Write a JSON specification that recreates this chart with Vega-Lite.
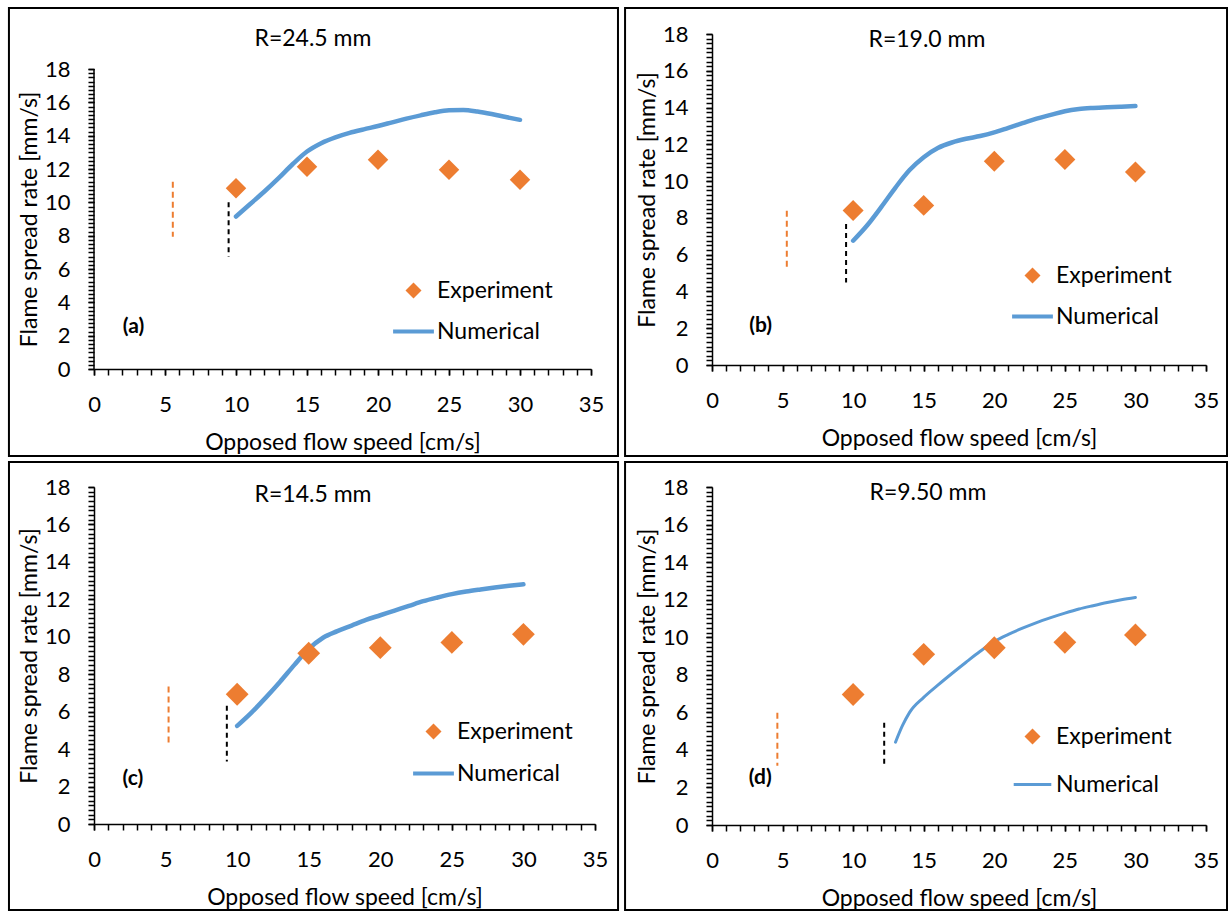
{
  "$schema": "https://vega.github.io/schema/vega-lite/v6.json",
  "background": "white",
  "padding": {"left": 7, "top": 7, "right": 0, "bottom": 0},
  "columns": 2,
  "spacing": {"row": 2, "column": 4},
  "resolve": {"scale": {"color": "independent", "shape": "independent"}},
  "datasets": {
    "measured": [
      {"panel": "a", "series": "Experiment", "speed": 10, "rate": 10.84},
      {"panel": "a", "series": "Experiment", "speed": 15, "rate": 12.14},
      {"panel": "a", "series": "Experiment", "speed": 20, "rate": 12.56},
      {"panel": "a", "series": "Experiment", "speed": 25, "rate": 11.96},
      {"panel": "a", "series": "Experiment", "speed": 30, "rate": 11.36},
      {"panel": "b", "series": "Experiment", "speed": 10, "rate": 8.4},
      {"panel": "b", "series": "Experiment", "speed": 15, "rate": 8.68},
      {"panel": "b", "series": "Experiment", "speed": 20, "rate": 11.08},
      {"panel": "b", "series": "Experiment", "speed": 25, "rate": 11.17},
      {"panel": "b", "series": "Experiment", "speed": 30, "rate": 10.5},
      {"panel": "c", "series": "Experiment", "speed": 10, "rate": 6.93},
      {"panel": "c", "series": "Experiment", "speed": 15, "rate": 9.12},
      {"panel": "c", "series": "Experiment", "speed": 20, "rate": 9.42},
      {"panel": "c", "series": "Experiment", "speed": 25, "rate": 9.7},
      {"panel": "c", "series": "Experiment", "speed": 30, "rate": 10.13},
      {"panel": "d", "series": "Experiment", "speed": 10, "rate": 6.95},
      {"panel": "d", "series": "Experiment", "speed": 15, "rate": 9.09},
      {"panel": "d", "series": "Experiment", "speed": 20, "rate": 9.44},
      {"panel": "d", "series": "Experiment", "speed": 25, "rate": 9.73},
      {"panel": "d", "series": "Experiment", "speed": 30, "rate": 10.12}
    ],
    "simulated": [
      {"panel": "a", "speed": 10, "rate": 9.15},
      {"panel": "a", "speed": 11, "rate": 9.9},
      {"panel": "a", "speed": 12, "rate": 10.65},
      {"panel": "a", "speed": 13, "rate": 11.45},
      {"panel": "a", "speed": 14, "rate": 12.3},
      {"panel": "a", "speed": 15, "rate": 13.05},
      {"panel": "a", "speed": 16, "rate": 13.55},
      {"panel": "a", "speed": 17, "rate": 13.9},
      {"panel": "a", "speed": 18, "rate": 14.17},
      {"panel": "a", "speed": 19, "rate": 14.38},
      {"panel": "a", "speed": 20, "rate": 14.58},
      {"panel": "a", "speed": 21, "rate": 14.8},
      {"panel": "a", "speed": 22, "rate": 15.02},
      {"panel": "a", "speed": 23, "rate": 15.22},
      {"panel": "a", "speed": 24, "rate": 15.4},
      {"panel": "a", "speed": 25, "rate": 15.52},
      {"panel": "a", "speed": 26, "rate": 15.54},
      {"panel": "a", "speed": 27, "rate": 15.45},
      {"panel": "a", "speed": 28, "rate": 15.3},
      {"panel": "a", "speed": 29, "rate": 15.12},
      {"panel": "a", "speed": 30, "rate": 14.95},
      {"panel": "b", "speed": 10, "rate": 6.76},
      {"panel": "b", "speed": 11, "rate": 7.6},
      {"panel": "b", "speed": 12, "rate": 8.6},
      {"panel": "b", "speed": 13, "rate": 9.65},
      {"panel": "b", "speed": 14, "rate": 10.6},
      {"panel": "b", "speed": 15, "rate": 11.3},
      {"panel": "b", "speed": 16, "rate": 11.8},
      {"panel": "b", "speed": 17, "rate": 12.1},
      {"panel": "b", "speed": 18, "rate": 12.3},
      {"panel": "b", "speed": 19, "rate": 12.45},
      {"panel": "b", "speed": 20, "rate": 12.65},
      {"panel": "b", "speed": 21, "rate": 12.9},
      {"panel": "b", "speed": 22, "rate": 13.15},
      {"panel": "b", "speed": 23, "rate": 13.4},
      {"panel": "b", "speed": 24, "rate": 13.6},
      {"panel": "b", "speed": 25, "rate": 13.8},
      {"panel": "b", "speed": 26, "rate": 13.92},
      {"panel": "b", "speed": 27, "rate": 13.98},
      {"panel": "b", "speed": 28, "rate": 14.02},
      {"panel": "b", "speed": 29, "rate": 14.05},
      {"panel": "b", "speed": 30, "rate": 14.08},
      {"panel": "c", "speed": 10, "rate": 5.24},
      {"panel": "c", "speed": 11, "rate": 5.95},
      {"panel": "c", "speed": 12, "rate": 6.75},
      {"panel": "c", "speed": 13, "rate": 7.6},
      {"panel": "c", "speed": 14, "rate": 8.5},
      {"panel": "c", "speed": 15, "rate": 9.35},
      {"panel": "c", "speed": 16, "rate": 9.95},
      {"panel": "c", "speed": 17, "rate": 10.3},
      {"panel": "c", "speed": 18, "rate": 10.6},
      {"panel": "c", "speed": 19, "rate": 10.9},
      {"panel": "c", "speed": 20, "rate": 11.15},
      {"panel": "c", "speed": 21, "rate": 11.4},
      {"panel": "c", "speed": 22, "rate": 11.65},
      {"panel": "c", "speed": 23, "rate": 11.9},
      {"panel": "c", "speed": 24, "rate": 12.1},
      {"panel": "c", "speed": 25, "rate": 12.28},
      {"panel": "c", "speed": 26, "rate": 12.42},
      {"panel": "c", "speed": 27, "rate": 12.53},
      {"panel": "c", "speed": 28, "rate": 12.63},
      {"panel": "c", "speed": 29, "rate": 12.72},
      {"panel": "c", "speed": 30, "rate": 12.8},
      {"panel": "d", "speed": 13, "rate": 4.41},
      {"panel": "d", "speed": 13.5, "rate": 5.3},
      {"panel": "d", "speed": 14, "rate": 6.0},
      {"panel": "d", "speed": 15, "rate": 6.8},
      {"panel": "d", "speed": 16, "rate": 7.45},
      {"panel": "d", "speed": 17, "rate": 8.07},
      {"panel": "d", "speed": 18, "rate": 8.67},
      {"panel": "d", "speed": 19, "rate": 9.25},
      {"panel": "d", "speed": 20, "rate": 9.77},
      {"panel": "d", "speed": 21, "rate": 10.15},
      {"panel": "d", "speed": 22, "rate": 10.48},
      {"panel": "d", "speed": 23, "rate": 10.78},
      {"panel": "d", "speed": 24, "rate": 11.04},
      {"panel": "d", "speed": 25, "rate": 11.28},
      {"panel": "d", "speed": 26, "rate": 11.5},
      {"panel": "d", "speed": 27, "rate": 11.68},
      {"panel": "d", "speed": 28, "rate": 11.85},
      {"panel": "d", "speed": 29, "rate": 12.0},
      {"panel": "d", "speed": 30, "rate": 12.12}
    ],
    "limits": [
      {"panel": "a", "kind": "exp", "speed": 5.55, "lo": 7.94, "hi": 11.24},
      {"panel": "a", "kind": "num", "speed": 9.48, "lo": 6.74, "hi": 10.0},
      {"panel": "b", "kind": "exp", "speed": 5.3, "lo": 5.26, "hi": 8.39},
      {"panel": "b", "kind": "num", "speed": 9.5, "lo": 4.48, "hi": 7.67},
      {"panel": "c", "kind": "exp", "speed": 5.21, "lo": 4.32, "hi": 7.34},
      {"panel": "c", "kind": "num", "speed": 9.28, "lo": 3.34, "hi": 6.31},
      {"panel": "d", "kind": "exp", "speed": 4.63, "lo": 3.16, "hi": 5.98},
      {"panel": "d", "kind": "num", "speed": 12.2, "lo": 3.07, "hi": 5.45}
    ]
  },
  "concat": [
    {
      "width": 497,
      "height": 335,
      "resolve": {"axis": {"x": "independent", "y": "independent"}},
      "layer": [
        {
          "data": {"values": [{}]},
          "mark": {"type": "rect", "filled": false, "stroke": "#000", "strokeWidth": 2},
          "encoding": {
            "x": {"datum": -5.99, "type": "quantitative",
              "axis": {"orient": "bottom", "title": null, "labels": false, "values": [0,1,2,3,4,5,6,7,8,9,10,11,12,13,14,15,16,17,18,19,20,21,22,23,24,25,26,27,28,29,30,31,32,33,34,35]}},
            "x2": {"datum": 36.9},
            "y": {"datum": -5.22, "type": "quantitative",
              "axis": {"orient": "left", "title": null, "labels": false, "domain": false, "values": [0,0.25,0.5,0.75,1,1.25,1.5,1.75,2,2.25,2.5,2.75,3,3.25,3.5,3.75,4,4.25,4.5,4.75,5,5.25,5.5,5.75,6,6.25,6.5,6.75,7,7.25,7.5,7.75,8,8.25,8.5,8.75,9,9.25,9.5,9.75,10,10.25,10.5,10.75,11,11.25,11.5,11.75,12,12.25,12.5,12.75,13,13.25,13.5,13.75,14,14.25,14.5,14.75,15,15.25,15.5,15.75,16,16.25,16.5,16.75,17,17.25,17.5,17.75,18]}},
            "y2": {"datum": 21.66}
          }
        },
        {
          "data": {"values": [{}]},
          "mark": {"type": "text", "text": "R=24.5 mm", "fontSize": 23, "color": "#000"},
          "encoding": {
            "x": {"datum": 15.42, "type": "quantitative",
              "axis": {"orient": "bottom", "title": "Opposed flow speed [cm/s]", "domain": false, "labelOverlap": false, "values": [0,5,10,15,20,25,30,35]}},
            "y": {"datum": 19.8, "type": "quantitative",
              "axis": {"orient": "left", "title": "Flame spread rate [mm/s]", "titleY": 185, "domain": false, "labelOverlap": false, "values": [0,2,4,6,8,10,12,14,16,18]}}
          }
        },
        {
          "data": {"values": [{}]},
          "mark": {"type": "rule", "color": "#000", "strokeWidth": 1.5},
          "encoding": {
            "x": {"datum": 0, "type": "quantitative", "axis": null},
            "y": {"datum": 0, "type": "quantitative", "axis": null}, "y2": {"datum": 18}
          }
        },
        {
          "data": {"values": [{}]},
          "mark": {"type": "text", "text": "(a)", "fontSize": 21, "fontWeight": "bold", "color": "#000"},
          "encoding": {"x": {"datum": 2.78, "type": "quantitative", "axis": null}, "y": {"datum": 2.52, "type": "quantitative", "axis": null}}
        },
        {
          "data": {"name": "limits"},
          "transform": [{"filter": "datum.panel === 'a' && datum.kind === 'exp'"}],
          "mark": {"type": "rule", "color": "#ED7D31", "strokeWidth": 2, "strokeDash": [6, 4]},
          "encoding": {"x": {"field": "speed", "type": "quantitative", "axis": null}, "y": {"field": "hi", "type": "quantitative", "axis": null}, "y2": {"field": "lo"}}
        },
        {
          "data": {"name": "limits"},
          "transform": [{"filter": "datum.panel === 'a' && datum.kind === 'num'"}],
          "mark": {"type": "rule", "color": "#000", "strokeWidth": 2, "strokeDash": [5, 4]},
          "encoding": {"x": {"field": "speed", "type": "quantitative", "axis": null}, "y": {"field": "hi", "type": "quantitative", "axis": null}, "y2": {"field": "lo"}}
        },
        {
          "data": {"name": "simulated"},
          "transform": [{"filter": "datum.panel === 'a'"}],
          "mark": {"type": "line", "color": "#5B9BD5", "strokeWidth": 4.5, "strokeCap": "round", "interpolate": "monotone"},
          "encoding": {
            "x": {"field": "speed", "type": "quantitative", "axis": null},
            "y": {"field": "rate", "type": "quantitative", "axis": null}
          }
        },
        {
          "data": {"name": "measured"},
          "transform": [{"filter": "datum.panel === 'a'"}],
          "mark": {"type": "point", "filled": true, "opacity": 1, "size": 420},
          "encoding": {
            "x": {"field": "speed", "type": "quantitative", "axis": null, "scale": {"domain": [0, 35], "nice": false, "zero": false}},
            "y": {"field": "rate", "type": "quantitative", "axis": null, "scale": {"domain": [0, 20.1], "nice": false, "zero": false}},
            "color": {"field": "series", "type": "nominal", "scale": {"domain": ["Experiment", "Numerical"], "range": ["#ED7D31", "#5B9BD5"]},
              "legend": {"title": null, "orient": "none", "legendX": 308, "legendY": 245, "rowPadding": 17}},
            "shape": {"field": "series", "type": "nominal", "scale": {"domain": ["Experiment", "Numerical"], "range": ["diamond", "M-2.55,-0.25H2.55V0.25H-2.55Z"]},
              "legend": {"title": null, "orient": "none", "legendX": 308, "legendY": 245, "rowPadding": 17}}
          }
        }
      ]
    },
    {
      "width": 494,
      "height": 331,
      "resolve": {"axis": {"x": "independent", "y": "independent"}},
      "layer": [
        {
          "data": {"values": [{}]},
          "mark": {"type": "rect", "filled": false, "stroke": "#000", "strokeWidth": 2},
          "encoding": {
            "x": {"datum": -6.16, "type": "quantitative",
              "axis": {"orient": "bottom", "title": null, "labels": false, "values": [0,1,2,3,4,5,6,7,8,9,10,11,12,13,14,15,16,17,18,19,20,21,22,23,24,25,26,27,28,29,30,31,32,33,34,35]}},
            "x2": {"datum": 36.49},
            "y": {"datum": -4.95, "type": "quantitative",
              "axis": {"orient": "left", "title": null, "labels": false, "values": [0,0.25,0.5,0.75,1,1.25,1.5,1.75,2,2.25,2.5,2.75,3,3.25,3.5,3.75,4,4.25,4.5,4.75,5,5.25,5.5,5.75,6,6.25,6.5,6.75,7,7.25,7.5,7.75,8,8.25,8.5,8.75,9,9.25,9.5,9.75,10,10.25,10.5,10.75,11,11.25,11.5,11.75,12,12.25,12.5,12.75,13,13.25,13.5,13.75,14,14.25,14.5,14.75,15,15.25,15.5,15.75,16,16.25,16.5,16.75,17,17.25,17.5,17.75,18]}},
            "y2": {"datum": 19.41}
          }
        },
        {
          "data": {"values": [{}]},
          "mark": {"type": "text", "text": "R=19.0 mm", "fontSize": 23, "color": "#000"},
          "encoding": {
            "x": {"datum": 15.23, "type": "quantitative",
              "axis": {"orient": "bottom", "title": "Opposed flow speed [cm/s]", "domain": false, "labelOverlap": false, "values": [0,5,10,15,20,25,30,35]}},
            "y": {"datum": 17.67, "type": "quantitative",
              "axis": {"orient": "left", "title": "Flame spread rate [mm/s]", "domain": false, "labelOverlap": false, "values": [0,2,4,6,8,10,12,14,16,18]}}
          }
        },
        {
          "data": {"values": [{}]},
          "mark": {"type": "text", "text": "(b)", "fontSize": 21, "fontWeight": "bold", "color": "#000"},
          "encoding": {"x": {"datum": 3.44, "type": "quantitative", "axis": null}, "y": {"datum": 2.12, "type": "quantitative", "axis": null}}
        },
        {
          "data": {"name": "limits"},
          "transform": [{"filter": "datum.panel === 'b' && datum.kind === 'exp'"}],
          "mark": {"type": "rule", "color": "#ED7D31", "strokeWidth": 2, "strokeDash": [6, 4]},
          "encoding": {"x": {"field": "speed", "type": "quantitative", "axis": null}, "y": {"field": "hi", "type": "quantitative", "axis": null}, "y2": {"field": "lo"}}
        },
        {
          "data": {"name": "limits"},
          "transform": [{"filter": "datum.panel === 'b' && datum.kind === 'num'"}],
          "mark": {"type": "rule", "color": "#000", "strokeWidth": 2, "strokeDash": [5, 4]},
          "encoding": {"x": {"field": "speed", "type": "quantitative", "axis": null}, "y": {"field": "hi", "type": "quantitative", "axis": null}, "y2": {"field": "lo"}}
        },
        {
          "data": {"name": "simulated"},
          "transform": [{"filter": "datum.panel === 'b'"}],
          "mark": {"type": "line", "color": "#5B9BD5", "strokeWidth": 4.5, "strokeCap": "round", "interpolate": "monotone"},
          "encoding": {
            "x": {"field": "speed", "type": "quantitative", "axis": null},
            "y": {"field": "rate", "type": "quantitative", "axis": null}
          }
        },
        {
          "data": {"name": "measured"},
          "transform": [{"filter": "datum.panel === 'b'"}],
          "mark": {"type": "point", "filled": true, "opacity": 1, "size": 440},
          "encoding": {
            "x": {"field": "speed", "type": "quantitative", "axis": null, "scale": {"domain": [0, 35], "nice": false, "zero": false}},
            "y": {"field": "rate", "type": "quantitative", "axis": null, "scale": {"domain": [0, 18], "nice": false, "zero": false}},
            "color": {"field": "series", "type": "nominal", "scale": {"domain": ["Experiment", "Numerical"], "range": ["#ED7D31", "#5B9BD5"]},
              "legend": {"title": null, "orient": "none", "legendX": 309, "legendY": 230, "rowPadding": 17}},
            "shape": {"field": "series", "type": "nominal", "scale": {"domain": ["Experiment", "Numerical"], "range": ["diamond", "M-2.55,-0.25H2.55V0.25H-2.55Z"]},
              "legend": {"title": null, "orient": "none", "legendX": 309, "legendY": 230, "rowPadding": 17}}
          }
        }
      ]
    },
    {
      "width": 501,
      "height": 337,
      "resolve": {"axis": {"x": "independent", "y": "independent"}},
      "layer": [
        {
          "data": {"values": [{}]},
          "mark": {"type": "rect", "filled": false, "stroke": "#000", "strokeWidth": 2},
          "encoding": {
            "x": {"datum": -5.94, "type": "quantitative",
              "axis": {"orient": "bottom", "title": null, "labels": false, "values": [0,1,2,3,4,5,6,7,8,9,10,11,12,13,14,15,16,17,18,19,20,21,22,23,24,25,26,27,28,29,30,31,32,33,34,35]}},
            "x2": {"datum": 36.61},
            "y": {"datum": -4.59, "type": "quantitative",
              "axis": {"orient": "left", "title": null, "labels": false, "values": [0,0.25,0.5,0.75,1,1.25,1.5,1.75,2,2.25,2.5,2.75,3,3.25,3.5,3.75,4,4.25,4.5,4.75,5,5.25,5.5,5.75,6,6.25,6.5,6.75,7,7.25,7.5,7.75,8,8.25,8.5,8.75,9,9.25,9.5,9.75,10,10.25,10.5,10.75,11,11.25,11.5,11.75,12,12.25,12.5,12.75,13,13.25,13.5,13.75,14,14.25,14.5,14.75,15,15.25,15.5,15.75,16,16.25,16.5,16.75,17,17.25,17.5,17.75,18]}},
            "y2": {"datum": 19.34}
          }
        },
        {
          "data": {"values": [{}]},
          "mark": {"type": "text", "text": "R=14.5 mm", "fontSize": 23, "color": "#000"},
          "encoding": {
            "x": {"datum": 15.3, "type": "quantitative",
              "axis": {"orient": "bottom", "title": "Opposed flow speed [cm/s]", "domain": false, "labelOverlap": false, "values": [0,5,10,15,20,25,30,35]}},
            "y": {"datum": 17.57, "type": "quantitative",
              "axis": {"orient": "left", "title": "Flame spread rate [mm/s]", "domain": false, "labelOverlap": false, "values": [0,2,4,6,8,10,12,14,16,18]}}
          }
        },
        {
          "data": {"values": [{}]},
          "mark": {"type": "text", "text": "(c)", "fontSize": 21, "fontWeight": "bold", "color": "#000"},
          "encoding": {"x": {"datum": 2.72, "type": "quantitative", "axis": null}, "y": {"datum": 2.43, "type": "quantitative", "axis": null}}
        },
        {
          "data": {"name": "limits"},
          "transform": [{"filter": "datum.panel === 'c' && datum.kind === 'exp'"}],
          "mark": {"type": "rule", "color": "#ED7D31", "strokeWidth": 2, "strokeDash": [6, 4]},
          "encoding": {"x": {"field": "speed", "type": "quantitative", "axis": null}, "y": {"field": "hi", "type": "quantitative", "axis": null}, "y2": {"field": "lo"}}
        },
        {
          "data": {"name": "limits"},
          "transform": [{"filter": "datum.panel === 'c' && datum.kind === 'num'"}],
          "mark": {"type": "rule", "color": "#000", "strokeWidth": 2, "strokeDash": [5, 4]},
          "encoding": {"x": {"field": "speed", "type": "quantitative", "axis": null}, "y": {"field": "hi", "type": "quantitative", "axis": null}, "y2": {"field": "lo"}}
        },
        {
          "data": {"name": "simulated"},
          "transform": [{"filter": "datum.panel === 'c'"}],
          "mark": {"type": "line", "color": "#5B9BD5", "strokeWidth": 4.5, "strokeCap": "round", "interpolate": "monotone"},
          "encoding": {
            "x": {"field": "speed", "type": "quantitative", "axis": null},
            "y": {"field": "rate", "type": "quantitative", "axis": null}
          }
        },
        {
          "data": {"name": "measured"},
          "transform": [{"filter": "datum.panel === 'c'"}],
          "mark": {"type": "point", "filled": true, "opacity": 1, "size": 520},
          "encoding": {
            "x": {"field": "speed", "type": "quantitative", "axis": null, "scale": {"domain": [0, 35], "nice": false, "zero": false}},
            "y": {"field": "rate", "type": "quantitative", "axis": null, "scale": {"domain": [0, 18], "nice": false, "zero": false}},
            "color": {"field": "series", "type": "nominal", "scale": {"domain": ["Experiment", "Numerical"], "range": ["#ED7D31", "#5B9BD5"]},
              "legend": {"title": null, "orient": "none", "legendX": 328, "legendY": 233, "rowPadding": 18}},
            "shape": {"field": "series", "type": "nominal", "scale": {"domain": ["Experiment", "Numerical"], "range": ["diamond", "M-2.55,-0.25H2.55V0.25H-2.55Z"]},
              "legend": {"title": null, "orient": "none", "legendX": 328, "legendY": 233, "rowPadding": 18}}
          }
        }
      ]
    },
    {
      "width": 494,
      "height": 338,
      "resolve": {"axis": {"x": "independent", "y": "independent"}},
      "layer": [
        {
          "data": {"values": [{}]},
          "mark": {"type": "rect", "filled": false, "stroke": "#000", "strokeWidth": 2},
          "encoding": {
            "x": {"datum": -6.16, "type": "quantitative",
              "axis": {"orient": "bottom", "title": null, "labels": false, "values": [0,1,2,3,4,5,6,7,8,9,10,11,12,13,14,15,16,17,18,19,20,21,22,23,24,25,26,27,28,29,30,31,32,33,34,35]}},
            "x2": {"datum": 36.49},
            "y": {"datum": -4.53, "type": "quantitative",
              "axis": {"orient": "left", "title": null, "labels": false, "values": [0,0.25,0.5,0.75,1,1.25,1.5,1.75,2,2.25,2.5,2.75,3,3.25,3.5,3.75,4,4.25,4.5,4.75,5,5.25,5.5,5.75,6,6.25,6.5,6.75,7,7.25,7.5,7.75,8,8.25,8.5,8.75,9,9.25,9.5,9.75,10,10.25,10.5,10.75,11,11.25,11.5,11.75,12,12.25,12.5,12.75,13,13.25,13.5,13.75,14,14.25,14.5,14.75,15,15.25,15.5,15.75,16,16.25,16.5,16.75,17,17.25,17.5,17.75,18]}},
            "y2": {"datum": 19.33}
          }
        },
        {
          "data": {"values": [{}]},
          "mark": {"type": "text", "text": "R=9.50 mm", "fontSize": 23, "color": "#000"},
          "encoding": {
            "x": {"datum": 15.3, "type": "quantitative",
              "axis": {"orient": "bottom", "title": "Opposed flow speed [cm/s]", "domain": false, "labelOverlap": false, "values": [0,5,10,15,20,25,30,35]}},
            "y": {"datum": 17.68, "type": "quantitative",
              "axis": {"orient": "left", "title": "Flame spread rate [mm/s]", "domain": false, "labelOverlap": false, "values": [0,2,4,6,8,10,12,14,16,18]}}
          }
        },
        {
          "data": {"values": [{}]},
          "mark": {"type": "text", "text": "(d)", "fontSize": 21, "fontWeight": "bold", "color": "#000"},
          "encoding": {"x": {"datum": 3.42, "type": "quantitative", "axis": null}, "y": {"datum": 2.48, "type": "quantitative", "axis": null}}
        },
        {
          "data": {"name": "limits"},
          "transform": [{"filter": "datum.panel === 'd' && datum.kind === 'exp'"}],
          "mark": {"type": "rule", "color": "#ED7D31", "strokeWidth": 2, "strokeDash": [6, 4]},
          "encoding": {"x": {"field": "speed", "type": "quantitative", "axis": null}, "y": {"field": "hi", "type": "quantitative", "axis": null}, "y2": {"field": "lo"}}
        },
        {
          "data": {"name": "limits"},
          "transform": [{"filter": "datum.panel === 'd' && datum.kind === 'num'"}],
          "mark": {"type": "rule", "color": "#000", "strokeWidth": 2, "strokeDash": [5, 4]},
          "encoding": {"x": {"field": "speed", "type": "quantitative", "axis": null}, "y": {"field": "hi", "type": "quantitative", "axis": null}, "y2": {"field": "lo"}}
        },
        {
          "data": {"name": "simulated"},
          "transform": [{"filter": "datum.panel === 'd'"}],
          "mark": {"type": "line", "color": "#5B9BD5", "strokeWidth": 3, "strokeCap": "round", "interpolate": "monotone"},
          "encoding": {
            "x": {"field": "speed", "type": "quantitative", "axis": null},
            "y": {"field": "rate", "type": "quantitative", "axis": null}
          }
        },
        {
          "data": {"name": "measured"},
          "transform": [{"filter": "datum.panel === 'd'"}],
          "mark": {"type": "point", "filled": true, "opacity": 1, "size": 520},
          "encoding": {
            "x": {"field": "speed", "type": "quantitative", "axis": null, "scale": {"domain": [0, 35], "nice": false, "zero": false}},
            "y": {"field": "rate", "type": "quantitative", "axis": null, "scale": {"domain": [0, 18], "nice": false, "zero": false}},
            "color": {"field": "series", "type": "nominal", "scale": {"domain": ["Experiment", "Numerical"], "range": ["#ED7D31", "#5B9BD5"]},
              "legend": {"title": null, "orient": "none", "legendX": 309, "legendY": 238, "rowPadding": 24}},
            "shape": {"field": "series", "type": "nominal", "scale": {"domain": ["Experiment", "Numerical"], "range": ["diamond", "M-2.35,-0.19H2.35V0.19H-2.35Z"]},
              "legend": {"title": null, "orient": "none", "legendX": 309, "legendY": 238, "rowPadding": 24}}
          }
        }
      ]
    }
  ],
  "config": {
    "font": "Lato",
    "view": {"stroke": null},
    "axis": {
      "grid": false,
      "domainColor": "#000",
      "domainWidth": 1.5,
      "tickColor": "#000",
      "tickWidth": 1.5,
      "tickSize": 6,
      "labelColor": "#000",
      "labelFont": "Lato",
      "labelFontSize": 22,
      "labelFlush": false,
      "labelBound": false,
      "titleFont": "Lato",
      "titleFontSize": 23,
      "titleFontWeight": "normal",
      "titleColor": "#000"
    },
    "axisX": {"labelPadding": 19, "titlePadding": 16},
    "axisY": {"labelPadding": 18, "titlePadding": 3},
    "legend": {
      "labelFont": "Lato",
      "labelFontSize": 23,
      "labelColor": "#000",
      "labelOffset": 12,
      "symbolSize": 256,
      "symbolStrokeWidth": 0,
      "padding": 0
    }
  }
}
